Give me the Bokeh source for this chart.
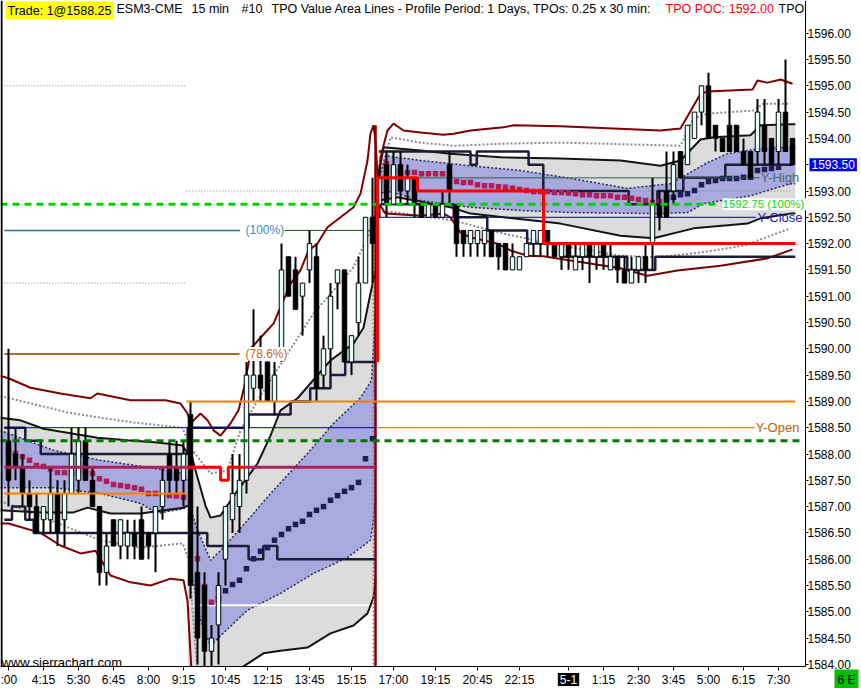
from bokeh.plotting import figure
from bokeh.models import FixedTicker, PrintfTickFormatter, Label, Range1d
from bokeh.embed import file_html
from bokeh.resources import INLINE

# ---------------- data ----------------
time_tick_bars = [0, 5, 10, 15, 20, 25, 31, 37, 43, 49, 55, 61, 67, 73, 80, 85, 90, 95, 100, 105, 110]
time_tick_labels = [":00", "4:15", "5:30", "6:45", "8:00", "9:15", "10:45", "12:15", "13:45", "15:15",
                    "17:00", "19:15", "20:45", "22:15", "5-1", "1:15", "2:30", "3:45", "5:00", "6:15", "7:30"]
price_ticks = [1584.0, 1584.5, 1585.0, 1585.5, 1586.0, 1586.5, 1587.0, 1587.5, 1588.0, 1588.5, 1589.0,
               1589.5, 1590.0, 1590.5, 1591.0, 1591.5, 1592.0, 1592.5, 1593.0, 1593.5, 1594.0, 1594.5,
               1595.0, 1595.5, 1596.0]
last_price = 1593.50

opens = [
    1588.25, 1588.0, 1587.75, 1587.25, 1587.0, 1586.75, 1586.75, 1587.25, 1586.75, 1587.25,
    1587.5, 1588.25, 1587.5, 1587.0, 1585.75, 1586.75, 1586.25, 1586.25, 1586.5, 1586.75,
    1586.5, 1586.5, 1587.0, 1588.0, 1587.75, 1587.5, 1588.75, 1585.75, 1585.5, 1584.25,
    1584.75, 1586.0, 1586.75, 1587.0, 1587.5, 1589.25, 1589.5, 1589.75, 1589.0, 1590.0,
    1591.75, 1591.5, 1591.0, 1591.5, 1591.75, 1589.5, 1590.0, 1591.25, 1591.5, 1589.75,
    1590.5, 1591.25, 1592.5, 1592.75, 1593.5, 1592.75, 1593.5, 1593.0, 1593.25, 1592.75,
    1592.5, 1592.75, 1592.5, 1593.5, 1592.75, 1592.25, 1592.0, 1592.0, 1592.0, 1592.25,
    1592.0, 1592.0, 1591.5, 1591.5, 1591.75, 1592.0, 1592.0, 1592.25, 1592.0, 1591.75,
    1592.0, 1591.5, 1591.75, 1592.0, 1591.75, 1592.0, 1591.5, 1591.75, 1591.5, 1591.25,
    1591.5, 1591.75, 1592.0, 1592.75, 1593.0, 1593.0, 1593.75, 1593.5, 1594.0, 1594.5,
    1595.0, 1594.25, 1594.0, 1594.25, 1594.25, 1593.75, 1593.75, 1593.75, 1594.25, 1594.0,
    1593.75, 1594.5, 1594.0]
highs = [
    1590.0, 1588.5, 1588.0, 1587.5, 1587.25, 1587.0, 1587.75, 1587.5, 1587.5, 1588.5,
    1588.5, 1588.5, 1587.75, 1587.0, 1586.5, 1586.75, 1586.75, 1586.75, 1586.75, 1587.0,
    1586.5, 1587.0, 1587.75, 1588.25, 1588.25, 1588.25, 1589.0, 1587.0, 1585.75, 1584.75,
    1585.75, 1587.0, 1588.0, 1588.0, 1589.75, 1590.75, 1590.25, 1589.75, 1589.75, 1592.0,
    1591.75, 1591.75, 1591.25, 1592.25, 1592.0, 1590.25, 1591.25, 1591.5, 1591.5, 1590.25,
    1591.75, 1592.5, 1593.25, 1593.5, 1593.75, 1593.75, 1593.75, 1593.5, 1593.25, 1592.75,
    1592.75, 1592.75, 1593.0, 1593.75, 1592.75, 1592.25, 1592.25, 1592.25, 1592.25, 1592.25,
    1592.0, 1592.0, 1592.0, 1591.75, 1592.0, 1592.25, 1592.25, 1592.25, 1592.0, 1592.0,
    1592.0, 1592.0, 1592.0, 1592.0, 1592.0, 1592.0, 1592.0, 1591.75, 1591.75, 1591.75,
    1591.75, 1592.0, 1593.25, 1593.0, 1593.75, 1593.75, 1593.75, 1594.25, 1594.5, 1595.0,
    1595.25, 1594.25, 1594.0, 1594.75, 1594.25, 1594.0, 1593.75, 1594.75, 1594.75, 1594.0,
    1594.75, 1595.5, 1594.0]
lows = [
    1587.0, 1587.5, 1587.0, 1586.75, 1586.5, 1586.5, 1586.5, 1586.25, 1586.25, 1587.25,
    1587.25, 1587.5, 1587.0, 1585.5, 1585.5, 1586.25, 1586.0, 1586.0, 1586.0, 1586.0,
    1586.0, 1585.75, 1586.75, 1587.25, 1587.25, 1587.0, 1585.25, 1584.0, 1583.75, 1583.75,
    1584.0, 1585.5, 1586.5, 1586.5, 1587.25, 1589.0, 1589.0, 1589.0, 1588.75, 1589.75,
    1591.0, 1590.75, 1590.25, 1591.25, 1589.0, 1589.25, 1589.5, 1590.75, 1589.75, 1589.5,
    1590.25, 1591.25, 1591.25, 1592.5, 1592.5, 1592.75, 1592.75, 1592.75, 1592.5, 1592.5,
    1592.5, 1592.5, 1592.5, 1592.75, 1591.75, 1591.75, 1591.75, 1591.75, 1591.75, 1591.75,
    1591.5, 1591.5, 1591.5, 1591.5, 1591.75, 1591.75, 1591.75, 1591.75, 1591.75, 1591.5,
    1591.5, 1591.5, 1591.5, 1591.25, 1591.5, 1591.5, 1591.5, 1591.25, 1591.25, 1591.25,
    1591.25, 1591.25, 1591.5, 1592.25, 1592.5, 1592.75, 1593.25, 1593.5, 1594.0, 1594.25,
    1594.0, 1593.75, 1593.75, 1593.75, 1593.75, 1593.5, 1593.25, 1593.5, 1593.5, 1593.5,
    1593.5, 1593.75, 1593.5]
closes = [
    1587.5, 1587.75, 1587.25, 1587.0, 1586.5, 1587.0, 1587.25, 1586.5, 1587.25, 1588.0,
    1588.25, 1587.5, 1587.0, 1585.75, 1586.25, 1586.25, 1586.75, 1586.5, 1586.25, 1586.0,
    1586.25, 1587.0, 1587.5, 1587.5, 1587.5, 1588.0, 1585.5, 1584.5, 1584.25, 1584.5,
    1585.5, 1587.0, 1587.25, 1587.5, 1589.5, 1589.5, 1589.25, 1589.0, 1589.5, 1591.5,
    1591.0, 1590.75, 1591.25, 1592.0, 1589.25, 1590.0, 1591.0, 1591.5, 1589.75, 1590.25,
    1591.25, 1592.5, 1592.0, 1593.25, 1592.75, 1593.5, 1593.0, 1593.25, 1592.75, 1592.5,
    1592.75, 1592.5, 1592.75, 1593.0, 1592.0, 1592.0, 1592.25, 1592.25, 1592.25, 1591.75,
    1591.75, 1591.5, 1591.75, 1591.75, 1592.0, 1592.25, 1592.25, 1592.0, 1591.75, 1592.0,
    1591.75, 1591.75, 1592.0, 1591.75, 1592.0, 1591.75, 1591.75, 1591.5, 1591.25, 1591.5,
    1591.75, 1591.5, 1592.75, 1592.5, 1592.5, 1593.5, 1593.25, 1594.25, 1594.5, 1595.0,
    1594.0, 1594.0, 1593.75, 1593.75, 1593.75, 1593.5, 1593.25, 1594.5, 1593.75, 1593.5,
    1594.5, 1593.75, 1593.5]

NaN = float("nan")
poc_dots = ([1588.05, 1588.01, 1587.95, 1587.88, 1587.78, 1587.76, 1587.72, 1587.65, 1587.65, 1587.63,
             1587.65, 1587.67, 1587.63, 1587.53, 1587.48, 1587.42, 1587.40, 1587.38, 1587.36, 1587.33,
             1587.25, 1587.25, 1587.23, 1587.21, 1587.20, 1587.18] +
            [1586.79, 1586.01, 1585.48, 1585.18, 1585.25, 1585.40, 1585.52, 1585.60, 1585.82, 1586.01,
             1586.15, 1586.22, 1586.36, 1586.47, 1586.58, 1586.66, 1586.72, 1586.85, 1586.93, 1587.00,
             1587.12, 1587.21, 1587.29, 1587.36, 1587.46, 1587.91, 1588.29] +
            [NaN] +
            [1593.52, 1593.39, 1593.35, 1593.35, 1593.35, 1593.33, 1593.33, 1593.33, 1593.33, 1593.29,
             1593.18, 1593.16, 1593.16, 1593.12, 1593.10, 1593.10, 1593.08, 1593.07, 1593.05, 1593.03,
             1593.01, 1592.99, 1592.99, 1592.99, 1592.97, 1592.97, 1592.96, 1592.95, 1592.93, 1592.93,
             1592.91, 1592.91, 1592.91, 1592.88, 1592.88, 1592.86, 1592.84, 1592.82, 1592.78, 1592.80,
             1592.86, 1592.88, 1592.93, 1592.95, 1593.01, 1593.12, 1593.18, 1593.20, 1593.24, 1593.24,
             1593.24, 1593.26, 1593.26, 1593.39, 1593.41, 1593.43, 1593.45] +
            [NaN, NaN])

# value-area bands (bar index, price)
s1_gray_top_x = [-1.2, 1.71, 5, 12.71, 17, 21.29, 24.86, 25.6]
s1_gray_top_y = [1588.69, 1588.64, 1588.48, 1588.31, 1588.26, 1588.22, 1588.16, 1588.01]
s1_gray_bot_x = [-1.2, 4.57, 9.29, 11.29, 14.57, 18.86, 25, 25.6]
s1_gray_bot_y = [1586.93, 1586.89, 1586.89, 1586.98, 1586.87, 1586.87, 1586.98, 1587.02]
s1_blue_top_x = [-1.2, 6.43, 13.14, 20.29, 25, 25.6]
s1_blue_top_y = [1588.45, 1588.07, 1587.88, 1587.74, 1587.63, 1587.50]
s1_blue_bot_x = [-1.2, 6.43, 13.14, 18.86, 21.29, 25, 25.6]
s1_blue_bot_y = [1587.36, 1587.36, 1587.25, 1587.06, 1586.87, 1586.96, 1587.02]

s2_gray_top_x = [25.6, 26.71, 28.14, 28.86, 30.29, 32.43, 35.57, 37.43, 38.86, 41.29, 46, 49.29, 50.71, 51.71, 52.43]
s2_gray_top_y = [1588.26, 1587.69, 1587.02, 1586.79, 1586.83, 1587.25, 1587.82, 1588.35, 1588.83, 1589.06,
                 1589.78, 1590.10, 1590.40, 1591.05, 1591.49]
s2_gray_bot_x = [25.6, 32.86, 36.43, 38.86, 42.71, 46, 49.29, 51.29, 52.14, 52.43]
s2_gray_bot_y = [1583.0, 1583.9, 1584.21, 1584.26, 1584.32, 1584.59, 1584.74, 1584.97, 1585.27, 1585.6]
s2_blue_top_x = [25.8, 26.86, 28.86, 30.71, 34.14, 37.86, 42.71, 46.43, 50.29, 51.86, 52.43]
s2_blue_top_y = [1587.06, 1586.60, 1585.98, 1586.22, 1586.74, 1587.31, 1588.01, 1588.58, 1589.07, 1589.40, 1590.67]
s2_blue_bot_x = [25.8, 27.43, 28.86, 34.14, 38.86, 43.57, 48.43, 51.71, 52.14, 52.43]
s2_blue_bot_y = [1585.98, 1584.83, 1584.36, 1585.03, 1585.35, 1585.73, 1586.03, 1586.36, 1586.74, 1587.12]

on_gray_top_x = [52.86, 53.57, 58.86, 63.14, 70.29, 78.86, 87.43, 93.14, 96, 98.86, 100.71, 106, 107.43, 111.71, 112.4]
on_gray_top_y = [1593.29, 1593.83, 1593.77, 1593.71, 1593.64, 1593.62, 1593.58, 1593.48, 1593.58, 1593.98,
                 1594.02, 1594.06, 1594.25, 1594.27, 1594.27]
on_gray_bot_x = [52.86, 55.57, 63.14, 66, 70.71, 78.86, 87.43, 92.14, 97.86, 105.57, 107.43, 111.71, 112.4]
on_gray_bot_y = [1592.82, 1592.88, 1592.69, 1592.57, 1592.50, 1592.38, 1592.15, 1592.10, 1592.29, 1592.38,
                 1592.48, 1592.57, 1592.57]
on_blue_top_x = [52.86, 53.86, 58.86, 66, 73.14, 80.29, 88.43, 94.57, 97.86, 99.86, 102.71, 107.43, 111.71, 112.4]
on_blue_top_y = [1593.20, 1593.67, 1593.58, 1593.48, 1593.39, 1593.24, 1593.05, 1593.14, 1593.39, 1593.54,
                 1593.71, 1593.81, 1593.83, 1593.83]
on_blue_bot_x = [52.86, 53.86, 58.86, 66, 73.14, 80.29, 92.71, 97, 99.29, 106, 111.71, 112.4]
on_blue_bot_y = [1592.91, 1593.01, 1592.82, 1592.69, 1592.63, 1592.59, 1592.57, 1592.59, 1592.76, 1592.91,
                 1593.14, 1593.14]

# outer dotted bands
day_up_dot_x = [-1.2, -0.14, 8.43, 13.14, 17.86, 24.86, 26, 28.86, 31.29, 33.14, 35.57, 43.57, 49.29, 51.71, 52.71]
day_up_dot_y = [1589.1, 1589.07, 1588.79, 1588.69, 1588.60, 1588.50, 1588.12, 1587.63, 1587.69, 1588.45,
                1589.02, 1590.67, 1591.55, 1592.25, 1592.76]
day_lo_dot_x = [-1.2, -0.14, 5, 13.14, 18.86, 24.86, 25.8, 26.6, 27.2]
day_lo_dot_y = [1587.1, 1587.06, 1586.79, 1586.36, 1586.22, 1586.30, 1585.98, 1584.45, 1583.70]
on_up_dot_x = [52.86, 53.86, 54.57, 58.86, 63.57, 70.71, 78.86, 96, 97.86, 99.86, 106.43, 107.86, 111.71]
on_up_dot_y = [1592.76, 1593.6, 1594.02, 1593.92, 1593.86, 1593.90, 1593.92, 1593.86, 1594.38, 1594.47,
               1594.53, 1594.66, 1594.66]
on_lo_dot_x = [52.86, 55, 63.57, 70.71, 78.86, 87.43, 92.71, 98.86, 105, 111.71]
on_lo_dot_y = [1592.6, 1592.6, 1592.44, 1592.19, 1591.96, 1591.77, 1591.74, 1591.83, 1591.96, 1592.29]

# outer envelope (maroon)
day_env_up_x = [-1.2, 0, 3.14, 7.43, 11.71, 12.71, 17.43, 22.43, 24.57, 25.57, 26, 27.43, 28.43, 29.29, 30.29,
                31.71, 32.86, 33.57, 34.71, 36, 37.86, 38.86, 40.29, 41.71, 42.86, 44.14, 45.57, 47.43, 49.29,
                50.29, 51.29, 51.71, 52.14, 52.43, 52.86]
day_env_up_y = [1589.49, 1589.44, 1589.26, 1589.15, 1589.06, 1589.15, 1589.02, 1589.02, 1588.96, 1588.77,
                1588.58, 1588.77, 1588.64, 1588.45, 1588.35, 1588.58, 1588.83, 1589.21, 1590.02, 1590.21,
                1590.48, 1590.79, 1591.24, 1591.49, 1591.87, 1592.00, 1592.31, 1592.50, 1592.69, 1592.95,
                1593.58, 1594.09, 1594.25, 1593.96, 1593.01]
day_env_lo_x = [-1.2, 0, 4.57, 7.43, 10.29, 12.43, 14.57, 17.43, 20.29, 23.14, 25, 25.57, 26.3]
day_env_lo_y = [1586.68, 1586.68, 1586.50, 1586.26, 1586.11, 1586.16, 1585.69, 1585.56, 1585.50, 1585.63,
                1585.60, 1585.21, 1583.5]
on_env_up_x = [52.86, 53.14, 54.14, 55, 56.43, 58.86, 62.14, 63.57, 66, 70.71, 72.14, 78.86, 93.14, 96,
               98.86, 99.86, 106.29, 107, 108.43, 110.29, 112]
on_env_up_y = [1593.01, 1593.64, 1594.15, 1594.28, 1594.15, 1594.11, 1594.07, 1594.09, 1594.15, 1594.21,
               1594.25, 1594.23, 1594.15, 1594.19, 1594.85, 1594.89, 1594.93, 1595.10, 1595.06, 1595.12, 1595.04]
on_env_lo_x = [52.86, 53.14, 53.86, 58.86, 62.14, 63.14, 64.57, 66, 69.86, 71.71, 74.14, 76.43, 80.29, 87.43,
               91.29, 95.57, 101.71, 108.43, 112]
on_env_lo_y = [1593.0, 1592.72, 1592.57, 1592.53, 1592.57, 1592.50, 1592.21, 1592.12, 1592.00, 1591.87,
               1591.77, 1591.76, 1591.68, 1591.53, 1591.39, 1591.49, 1591.58, 1591.72, 1591.89]

# developing value-area high / low (step edges in bars, levels in price)
day_vah_edges = [-0.6, 2.4, 4.6, 25.6, 34.3, 40.3, 43.1, 46, 48.1, 52.4]
day_vah_levels = [1588.5, 1588.25, 1588.0, 1588.5, 1588.75, 1589.0, 1589.25, 1589.5, 1589.75]
day_val_edges = [-0.6, 0.5, 2.4, 3.6, 28.4, 34.3, 36.4, 38.4, 52.4]
day_val_levels = [1586.75, 1587.0, 1586.75, 1586.5, 1586.25, 1586.0, 1586.25, 1586.0]
on_vah_edges = [52.9, 66, 66.9, 74.3, 76.4, 88.6, 92.7, 96.4, 102.4, 112.1]
on_vah_levels = [1593.75, 1593.5, 1593.75, 1593.5, 1593.0, 1592.75, 1593.0, 1593.25, 1593.5]
on_val_edges = [52.9, 63.6, 68.4, 74.1, 78.9, 88.4, 92.4, 112.4]
on_val_levels = [1592.75, 1592.5, 1592.25, 1592.0, 1591.75, 1591.5, 1591.75]

# developing POC
day_poc_price = 1587.75
day_poc_dip_edges = [25.4, 30.3, 31.4, 33.9]
day_poc_dip_levels = [1587.75, 1587.5, 1587.75]
on_poc_start = 1589.75
on_poc_edges = [52.71, 58.43, 76.43, 112.43]
on_poc_levels = [1593.25, 1593.0, 1592.0]

# reference levels
fib_dotted_prices = [1595.0, 1591.25]
prior_high_dotted = 1593.0
fib_100 = 1592.25
fib_786 = 1589.9
green_level = 1592.75
dark_green_level = 1588.25
orange_prev = 1587.25
orange_open = 1589.0
y_open = 1588.5
y_close = 1592.5
y_high = 1593.25
white_level = 1585.125
session_break = 52.43

# ---------------- figure ----------------
W, H = 861, 688
PX_PER_BAR = 7.0
PX_PER_PT = 52.6
BAR0_PX = 8.0           # pixel of bar 0
P1596_PX = 32.7         # pixel of 1596.00
AXIS_X_PX = 805.0       # right price scale line
AXIS_Y_PX = 666.0       # bottom time scale line

x_lo = -BAR0_PX / PX_PER_BAR
x_hi = (W - BAR0_PX) / PX_PER_BAR
p_hi = 1596.0 + P1596_PX / PX_PER_PT
p_lo = p_hi - H / PX_PER_PT
x_axis_bar = (AXIS_X_PX - BAR0_PX) / PX_PER_BAR
y_axis_price = p_hi - AXIS_Y_PX / PX_PER_PT

p = figure(frame_width=W, frame_height=H, output_backend="svg", toolbar_location=None,
           x_range=Range1d(x_lo, x_hi), y_range=Range1d(p_lo, p_hi),
           y_axis_location="right", min_border=0)
p.outline_line_color = None
p.background_fill_color = "white"
p.border_fill_color = "white"
p.xgrid.visible = False
p.ygrid.visible = False

FONT = "Liberation Sans"

ax = p.xaxis[0]
ax.fixed_location = y_axis_price
ax.bounds = (x_lo, x_axis_bar)
ax.ticker = FixedTicker(ticks=time_tick_bars)
ax.major_label_overrides = {b: ("" if t == "5-1" else t) for b, t in zip(time_tick_bars, time_tick_labels)}
ax.major_tick_out = 4
ax.major_tick_in = 0
ax.minor_tick_out = 0
ax.minor_tick_in = 0
ax.major_label_standoff = 2
ax.axis_line_color = "black"
ax.major_tick_line_color = "black"
ax.major_label_text_font = FONT
ax.major_label_text_font_size = "12px"
ax.major_label_text_color = "black"

ay = p.yaxis[0]
ay.fixed_location = x_axis_bar
ay.bounds = (y_axis_price, p_hi)
ay.ticker = FixedTicker(ticks=price_ticks)
ay.formatter = PrintfTickFormatter(format="%.2f")
ay.major_label_overrides = {last_price: ""}
ay.major_tick_out = 3
ay.major_tick_in = 0
ay.minor_tick_out = 0
ay.minor_tick_in = 0
ay.major_label_standoff = -1
ay.axis_line_color = "black"
ay.major_tick_line_color = "black"
ay.major_label_text_font = FONT
ay.major_label_text_font_size = "12px"
ay.major_label_text_color = "black"

GRAY_FILL = "#dcdcdc"
BLUE_FILL = "#a8a9df"
MAROON = "#800000"


def band(tx, ty, bx, by, color):
    p.patch(list(tx) + list(bx)[::-1], list(ty) + list(by)[::-1], fill_color=color, line_color=None)


def steps(edges, levels):
    xs, ys = [], []
    for i, lv in enumerate(levels):
        xs += [edges[i], edges[i + 1]]
        ys += [lv, lv]
    return xs, ys


def hline(price, x0, x1, **kw):
    p.segment(x0=[x0], y0=[price], x1=[x1], y1=[price], **kw)


# fills
band(s1_gray_top_x, s1_gray_top_y, s1_gray_bot_x, s1_gray_bot_y, GRAY_FILL)
band(s2_gray_top_x, s2_gray_top_y, s2_gray_bot_x, s2_gray_bot_y, GRAY_FILL)
band(on_gray_top_x, on_gray_top_y, on_gray_bot_x, on_gray_bot_y, GRAY_FILL)
band(s1_blue_top_x, s1_blue_top_y, s1_blue_bot_x, s1_blue_bot_y, BLUE_FILL)
band(s2_blue_top_x, s2_blue_top_y, s2_blue_bot_x, s2_blue_bot_y, BLUE_FILL)
band(on_blue_top_x, on_blue_top_y, on_blue_bot_x, on_blue_bot_y, BLUE_FILL)

for bx, by in [(s1_blue_top_x, s1_blue_top_y), (s1_blue_bot_x, s1_blue_bot_y),
               (s2_blue_top_x, s2_blue_top_y), (s2_blue_bot_x, s2_blue_bot_y),
               (on_blue_top_x, on_blue_top_y), (on_blue_bot_x, on_blue_bot_y)]:
    p.line(bx, by, line_color="#2a2a5a", line_width=1.5, line_dash="2 2")

for fp in fib_dotted_prices:
    hline(fp, -0.6, 25.4, line_color="#808080", line_width=1, line_dash="1 2")
hline(prior_high_dotted, 25.4, 111.7, line_color="#808080", line_width=1, line_dash="1 2")
hline(white_level, 25.4, 52.4, line_color="white", line_width=2)

for bx, by in [(day_up_dot_x, day_up_dot_y), (day_lo_dot_x, day_lo_dot_y),
               (on_up_dot_x, on_up_dot_y), (on_lo_dot_x, on_lo_dot_y)]:
    p.line(bx, by, line_color="#8a8a8a", line_width=2, line_dash="2 2")

for bx, by in [(s1_gray_top_x, s1_gray_top_y), (s1_gray_bot_x, s1_gray_bot_y),
               (s2_gray_top_x, s2_gray_top_y), (s2_gray_bot_x, s2_gray_bot_y),
               (on_gray_top_x, on_gray_top_y), (on_gray_bot_x, on_gray_bot_y)]:
    p.line(bx, by, line_color="#141414", line_width=2)

for bx, by in [(day_env_up_x, day_env_up_y), (day_env_lo_x, day_env_lo_y),
               (on_env_up_x, on_env_up_y), (on_env_lo_x, on_env_lo_y)]:
    p.line(bx, by, line_color=MAROON, line_width=2)
p.segment(x0=[session_break - 0.3], y0=[p_lo], x1=[session_break - 0.3], y1=[1592.8],
          line_color="#808080", line_width=1.5, line_dash="2 2")
p.segment(x0=[session_break], y0=[p_lo], x1=[session_break], y1=[1594.25], line_color=MAROON, line_width=2.5)

for e, lv in [(day_vah_edges, day_vah_levels), (day_val_edges, day_val_levels),
              (on_vah_edges, on_vah_levels), (on_val_edges, on_val_levels)]:
    sx, sy = steps(e, lv)
    p.line(sx, sy, line_color="#1c1c38", line_width=2.5)

dot_colors = []
for i in range(len(poc_dots)):
    crimson = (i <= 29) or (54 <= i <= 93)
    dot_colors.append("#b01e58" if crimson else "#1e1e55")
p.scatter(list(range(len(poc_dots))), poc_dots, marker="square", size=5.5, fill_color=dot_colors,
          line_color=None)

hline(fib_100, -0.6, 33.1, line_color="#1a70a0", line_width=1.5)
hline(fib_100, 39.5, 52.7, line_color="#1f4f1f", line_width=1)
hline(fib_786, -0.6, 33.0, line_color="#804000", line_width=1.5)
hline(y_open, -0.6, 52.4, line_color="#0000a0", line_width=1)
hline(y_open, 52.7, 106.6, line_color="#c06000", line_width=1)
hline(y_close, 52.7, 106.8, line_color="#0000b0", line_width=1)
hline(y_high, 52.7, 107.3, line_color="#2f5f4f", line_width=1)

# candles
bars = list(range(len(opens)))
p.segment(x0=bars, y0=highs, x1=bars, y1=lows, line_color="black", line_width=2)
up = [c > o for o, c in zip(opens, closes)]
ux = [b for b, u in zip(bars, up) if u]
p.vbar(x=ux, top=[closes[b] for b in ux], bottom=[opens[b] for b in ux], width=0.64,
       fill_color="#e6fbfb", line_color="black", line_width=1)
dx = [b for b, u in zip(bars, up) if not u]
p.vbar(x=dx, top=[opens[b] for b in dx], bottom=[closes[b] for b in dx], width=0.64,
       fill_color="black", line_color="black", line_width=1)

hline(orange_prev, -0.6, 25.4, line_color="#ff8000", line_width=2)
hline(orange_open, 25.4, 112.4, line_color="#ff8000", line_width=2)
hline(dark_green_level, x_lo, x_axis_bar - 0.3, line_color="#007800", line_width=3, line_dash="7 5")
hline(green_level, x_lo, 101.6, line_color="#00d200", line_width=3, line_dash="7 5")

hline(day_poc_price, -0.6, 25.4, line_color="#b01e58", line_width=3)
hline(day_poc_price, 33.9, 52.4, line_color="#b01e58", line_width=3)
sx, sy = steps(day_poc_dip_edges, day_poc_dip_levels)
p.line(sx, sy, line_color="#ff0000", line_width=3)
sx, sy = steps(on_poc_edges, on_poc_levels)
p.line([on_poc_edges[0]] + sx, [on_poc_start] + sy, line_color="#ff0000", line_width=3)

# chart border on the left
p.segment(x0=[x_lo + 0.15], y0=[y_axis_price], x1=[x_lo + 0.15], y1=[p_hi], line_color="black", line_width=2)

# keep price marks inside the chart area (mask the scale areas)
p.quad(left=[x_axis_bar], right=[x_hi + 1], bottom=[p_lo - 1], top=[p_hi + 1], fill_color="white", line_color=None)
p.quad(left=[x_lo - 1], right=[x_hi + 1], bottom=[p_lo - 1], top=[y_axis_price], fill_color="white", line_color=None)

# ---------------- texts ----------------
def dlabel(x, y, text, color, size="12px", bg=None):
    lab = Label(x=x, y=y, text=text, text_color=color, text_font=FONT, text_font_size=size,
                text_baseline="middle", text_align="left")
    if bg:
        lab.background_fill_color = bg
    p.add_layout(lab)


dlabel(33.86, fib_100, "(100%)", "#3c8dc8", bg="white")
dlabel(33.86, fib_786, "(78.6%)", "#b8682a", bg="white")
dlabel(107.45, y_high, "Y-High", "#4a6a6a", "13px")
dlabel(107.0, y_close, "Y-Close", "#2020a8", "13px")
dlabel(106.75, y_open, "Y-Open", "#c06000", "13px")
dlabel(102.0, green_level, "1592.75  (100%)", "#10d810", "11.5px", bg="white")

p.add_layout(Label(x=1, y=H - 662, x_units="screen", y_units="screen", text="www.sierrachart.com",
                   text_font=FONT, text_font_size="13px", text_color="black", text_baseline="alphabetic"))

head_y = H - 1
header = [
    (5, "Trade: 1@1588.25", "black", "#ffff00"),
    (116, "ESM3-CME", "black", None),
    (191, "15 min", "black", None),
    (241, "#10", "black", None),
    (271, "TPO Value Area Lines - Profile Period: 1 Days, TPOs: 0.25 x 30 min:", "black", None),
    (665, "TPO POC: 1592.00", "#ff0000", None),
    (778, "TPO", "black", None),
]
for hx, txt, col, bg in header:
    lab = Label(x=hx, y=head_y, x_units="screen", y_units="screen", text=txt, text_color=col,
                text_font=FONT, text_font_size="12.5px", text_baseline="top", text_align="left")
    if bg:
        lab.background_fill_color = bg
        lab.padding = 2
    p.add_layout(lab)

scale_label_bar = (AXIS_X_PX + 4 - BAR0_PX) / PX_PER_BAR
time_label_price = p_hi - 679 / PX_PER_PT
p.add_layout(Label(x=scale_label_bar, y=last_price, text="1593.50",
                   text_color="white", text_font=FONT, text_font_size="12px", text_baseline="middle",
                   background_fill_color="#0000f0", padding=2))
p.add_layout(Label(x=80, y=time_label_price, text="5-1", text_color="white",
                   text_font=FONT, text_font_size="12px", text_baseline="middle", text_align="center",
                   background_fill_color="black", padding=2))
p.add_layout(Label(x=(834 - BAR0_PX) / PX_PER_BAR, y=time_label_price, text="6 E",
                   text_color="black", text_font=FONT, text_font_size="12px", text_baseline="middle",
                   text_align="left", background_fill_color="#00c000", padding=3))

open("out.html", "w").write(file_html(p, INLINE))
